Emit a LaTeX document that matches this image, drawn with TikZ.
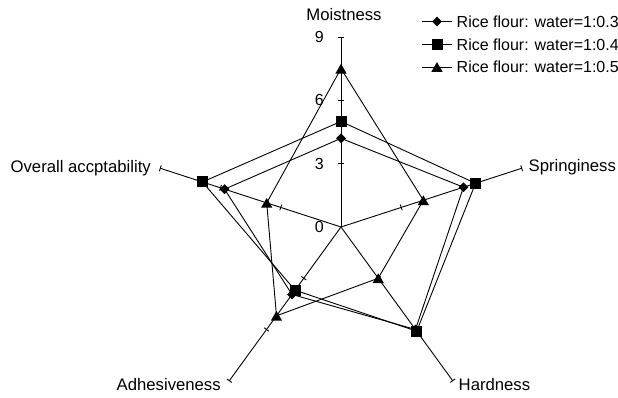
\documentclass[tikz,border=0pt]{standalone}
\usepackage{fontspec}
\setmainfont{Liberation Sans}
\usetikzlibrary{shapes.geometric}
\begin{document}
\begin{tikzpicture}[x=1pt,y=-1pt,
  lbl/.style={font=\fontsize{16}{19}\selectfont, inner sep=0pt},
  albl/.style={font=\fontsize{16.7}{20}\selectfont, inner sep=0pt},
  dmark/.style={diamond, fill=black, draw=none, inner sep=0pt, minimum size=10pt},
  smark/.style={rectangle, fill=black, draw=none, inner sep=0pt, minimum size=11pt},
  tmark/.style={regular polygon, regular polygon sides=3, fill=black, draw=none, inner sep=0pt, minimum size=13pt, yshift=-1.6pt},
  series/.style={draw=black, line width=0.9pt, line join=miter},
  axisline/.style={draw=black, line width=0.9pt}]
\useasboundingbox (0,0) rectangle (618,398);
\coordinate (O) at (341,227);
\def\U{21.1111}
% axes with ticks
\foreach \ang/\nm in {90/M,18/S,-54/H,-126/A,162/V}{
  \begin{scope}[shift={(341,227)}, rotate=\ang]
    \coordinate (e\nm) at (190,0);
    \foreach \r in {63.33,126.67,190}{\draw[axisline] (\r,-3) -- (\r,3);}
  \end{scope}
  \draw[axisline] (O) -- (e\nm);
}
% data points
\foreach \ang/\nm/\a/\b/\c in {90/M/4.2/5.0/7.5, 18/S/6.1/6.7/4.1, -54/H/6.0/6.1/3.0, -126/A/3.95/3.7/5.2, 162/V/5.8/6.9/3.7}{
  \begin{scope}[shift={(341,227)}, rotate=\ang]
    \coordinate (\nm1) at (\a*\U,0);
    \coordinate (\nm2) at (\b*\U,0);
    \coordinate (\nm3) at (\c*\U,0);
  \end{scope}
}
\draw[series] (M1) -- (S1) -- (H1) -- (A1) -- (V1) -- cycle;
\draw[series] (M2) -- (S2) -- (H2) -- (A2) -- (V2) -- cycle;
\draw[series] (M3) -- (S3) -- (H3) -- (A3) -- (V3) -- cycle;
\foreach \nm in {M,S,H,A,V}{\node[dmark] (d\nm) at (\nm1) {};}
\foreach \nm in {M,S,H,A,V}{\node[smark] (q\nm) at (\nm2) {};}
\foreach \nm in {M,S,H,A,V}{\node[tmark] (t\nm) at (\nm3) {};}
% axis labels
\node[albl, anchor=base] (labM) at (344,21) {Moistness};
\node[albl, anchor=base west] (labS) at (528.5,172) {Springiness};
\node[albl, anchor=base west] (labH) at (458.5,390.5) {Hardness};
\node[albl, anchor=base west] (labA) at (116.5,390.5) {Adhesiveness};
\node[albl, anchor=base east] (labV) at (151,173) {Overall accptability};
% scale labels
\node[lbl, anchor=base east] (n9) at (324,42.7) {9};
\node[lbl, anchor=base east] (n6) at (324,106) {6};
\node[lbl, anchor=base east] (n3) at (324,169.5) {3};
\node[lbl, anchor=base east] (n0) at (324,233) {0};
% legend
\foreach \i/\y/\st/\v in {1/21.5/dmark/3, 2/44.5/smark/4, 3/67/tmark/5}{
  \coordinate (La\i) at (422,\y);
  \coordinate (Lb\i) at (452,\y);
  \draw[axisline] (La\i) -- (Lb\i);
  \node[\st] (Lm\i) at (437,\y) {};
  \node[lbl, anchor=west] (Lt\i) at (456.5,\y) {Rice flour: water=1:0.\v};
}
\end{tikzpicture}
\end{document}
